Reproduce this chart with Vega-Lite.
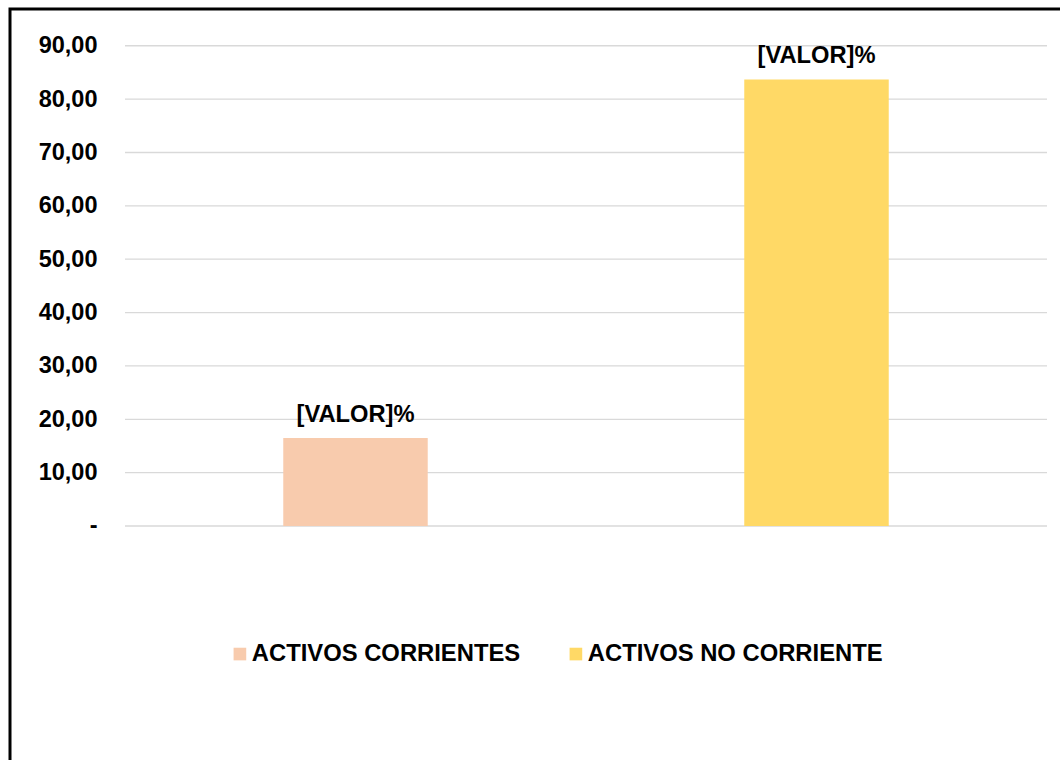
{
  "$schema": "https://vega.github.io/schema/vega-lite/v6.json",
  "width": 1052,
  "height": 753,
  "autosize": "none",
  "padding": {"left": 10, "top": 9, "right": 0, "bottom": 0},
  "background": "white",
  "config": {
    "view": {"stroke": "black", "strokeWidth": 3},
    "font": "Liberation Sans"
  },
  "datasets": {
    "barras": [
      {"categoria": "ACTIVOS CORRIENTES", "valor": 16.5, "etiqueta": "[VALOR]%"},
      {"categoria": "ACTIVOS NO CORRIENTE", "valor": 83.7, "etiqueta": "[VALOR]%"}
    ],
    "rejilla": [
      {"v": 0}, {"v": 10}, {"v": 20}, {"v": 30}, {"v": 40},
      {"v": 50}, {"v": 60}, {"v": 70}, {"v": 80}, {"v": 90}
    ]
  },
  "layer": [
    {
      "data": {"name": "rejilla"},
      "mark": {"type": "rule", "color": "#D9D9D9", "strokeWidth": 1.3},
      "encoding": {
        "y": {
          "field": "v",
          "type": "quantitative",
          "scale": {"domain": [-44.23, 96.89], "nice": false, "zero": false},
          "axis": {
            "orient": "left",
            "offset": -115,
            "values": [0, 10, 20, 30, 40, 50, 60, 70, 80, 90],
            "domain": false,
            "ticks": false,
            "grid": false,
            "labelPadding": 28,
            "labelFont": "Liberation Sans",
            "labelFontSize": 23.5,
            "labelFontWeight": "bold",
            "labelColor": "black",
            "labelExpr": "datum.value == 0 ? '-\u00a0\u00a0' : replace(format(datum.value, '.2f'), '.', ',')",
            "title": null
          }
        },
        "x": {
          "datum": "ACTIVOS CORRIENTES",
          "type": "nominal",
          "bandPosition": 0,
          "scale": {
            "domain": ["ACTIVOS CORRIENTES", "ACTIVOS NO CORRIENTE"],
            "paddingInner": 0,
            "paddingOuter": 0.141,
            "align": 0.8846
          },
          "axis": null
        },
        "x2": {"datum": "ACTIVOS NO CORRIENTE", "bandPosition": 1}
      }
    },
    {
      "data": {"name": "barras"},
      "mark": {"type": "bar", "width": {"band": 0.3134}},
      "encoding": {
        "x": {"field": "categoria", "type": "nominal", "axis": null},
        "y": {"field": "valor", "type": "quantitative"},
        "y2": {"datum": 0},
        "color": {
          "field": "categoria",
          "type": "nominal",
          "scale": {
            "domain": ["ACTIVOS CORRIENTES", "ACTIVOS NO CORRIENTE"],
            "range": ["#F8CBAD", "#FFD966"]
          },
          "legend": {
            "orient": "none",
            "legendX": 218,
            "legendY": 633,
            "direction": "horizontal",
            "title": null,
            "symbolType": "square",
            "symbolSize": 160,
            "symbolStrokeWidth": 0,
            "symbolOpacity": 1,
            "labelFont": "Liberation Sans",
            "labelFontSize": 23.8,
            "labelFontWeight": "bold",
            "labelColor": "black",
            "labelOffset": 0,
            "labelLimit": 600,
            "columnPadding": 43,
            "padding": 0
          }
        }
      }
    },
    {
      "data": {"name": "barras"},
      "mark": {
        "type": "text",
        "dy": -16,
        "baseline": "alphabetic",
        "align": "center",
        "font": "Liberation Sans",
        "fontSize": 23.7,
        "fontWeight": "bold",
        "color": "black"
      },
      "encoding": {
        "x": {"field": "categoria", "type": "nominal"},
        "y": {"field": "valor", "type": "quantitative"},
        "text": {"field": "etiqueta"}
      }
    }
  ]
}
